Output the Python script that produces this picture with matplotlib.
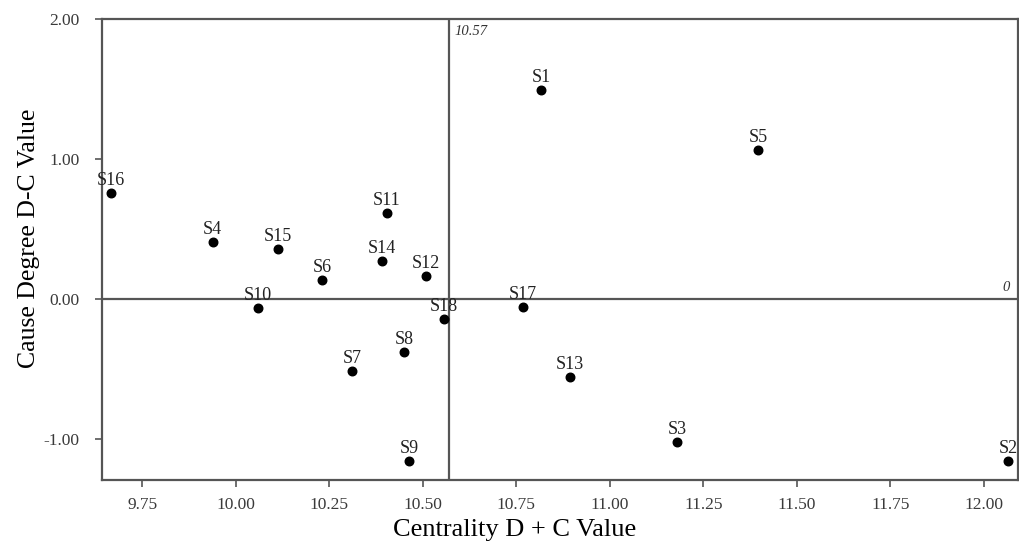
import matplotlib
matplotlib.use('Agg')
import matplotlib.pyplot as plt
import numpy as np

# factor labels and their D+C (centrality) / D-C (cause degree) values
labels = ['S1', 'S2', 'S3', 'S4', 'S5', 'S6', 'S7', 'S8', 'S9',
          'S10', 'S11', 'S12', 'S13', 'S14', 'S15', 'S16', 'S17', 'S18']
centrality = [10.816, 12.064, 11.179, 9.938, 11.396, 10.230, 10.310, 10.449, 10.463,
              10.059, 10.404, 10.508, 10.893, 10.390, 10.112, 9.666, 10.767, 10.556]
cause = [1.49, -1.157, -1.02, 0.407, 1.064, 0.136, -0.514, -0.379, -1.157,
         -0.064, 0.614, 0.164, -0.557, 0.271, 0.357, 0.757, -0.057, -0.143]

x_ref = 10.57
y_ref = 0.0
xticks = [9.75, 10.00, 10.25, 10.50, 10.75, 11.00, 11.25, 11.50, 11.75, 12.00]
yticks = [-1.00, 0.00, 1.00, 2.00]

plt.rcParams['font.family'] = ['Liberation Serif', 'DejaVu Serif']

fig = plt.figure(figsize=(10.19, 5.45), dpi=100)
ax = fig.add_axes([0.1, 0.119, 0.899, 0.846])

line_col = '#555555'
ax.axvline(x_ref, color=line_col, lw=1.6, zorder=1)
ax.axhline(y_ref, color=line_col, lw=1.6, zorder=1)

ax.scatter(centrality, cause, s=38, color='black', zorder=3)
for lab, x, y in zip(labels, centrality, cause):
    ax.annotate(lab, (x, y), xytext=(0, 6), textcoords='offset points',
                ha='center', va='baseline', fontsize=13, color='#222222')

ax.text(x_ref + 0.015, 1.96, f'{x_ref:.2f}', style='italic', fontsize=10.5,
        ha='left', va='top', color='#333333')
ax.text(12.07, y_ref + 0.04, '0', style='italic', fontsize=10.5,
        ha='right', va='bottom', color='#333333')

ax.set_xlim(9.642, 12.091)
ax.set_ylim(-1.293, 2.0)
ax.set_xticks(xticks)
ax.set_xticklabels([f'{t:.2f}' for t in xticks])
ax.set_yticks(yticks)
ax.set_yticklabels([f'{t:.2f}' for t in yticks])

for s in ax.spines.values():
    s.set_color(line_col)
    s.set_linewidth(1.6)
ax.tick_params(axis='both', colors=line_col, labelcolor='#3a3a3a',
               labelsize=12.5, length=5, width=1.2, direction='out')
ax.tick_params(axis='y', pad=11)
ax.tick_params(axis='x', pad=7)

ax.set_xlabel('Centrality D + C Value', fontsize=19, labelpad=7)
ax.xaxis.set_label_coords(0.45, -0.085)
ax.set_ylabel('Cause Degree D-C Value', fontsize=18.5, labelpad=3)
ax.yaxis.label.set_y(0.525)

fig.savefig('out.png', dpi=100)
